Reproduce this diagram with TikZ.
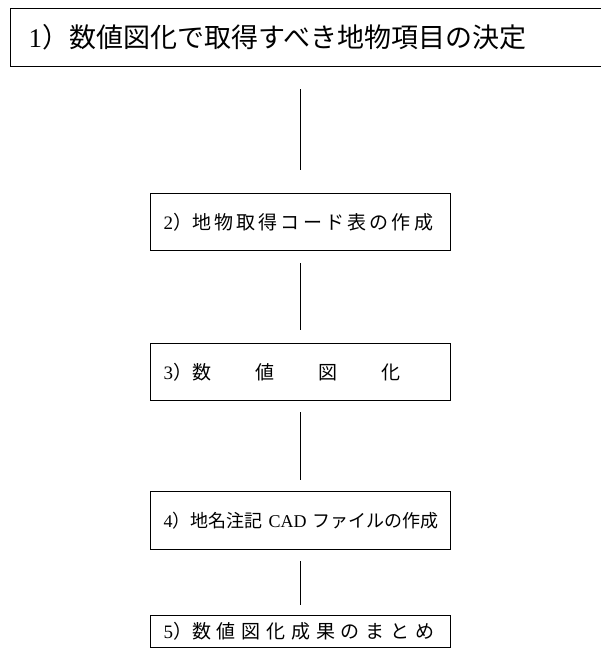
\documentclass[tikz,border=0pt]{standalone}
\usepackage{fontspec}
\setmainfont{Liberation Serif}
\newfontfamily\cjk{Noto Sans CJK JP}
\usetikzlibrary{calc}
\tikzset{
  box/.style={draw, line width=1.2pt, rectangle, anchor=north west, inner xsep=0pt, inner ysep=0pt, align=left},
  link/.style={line width=1.5pt}
}
\newcommand{\gp}[1]{\hspace{#1}}
\begin{document}
\begin{tikzpicture}[x=1pt,y=-1pt]
\useasboundingbox (0,0) rectangle (601,648);
\clip (0,0) rectangle (601,648);
\node[box, minimum width=600pt, minimum height=58pt, text width=600pt, font=\fontsize{27}{30}\selectfont] (b1) at (10,8)
  {\hspace{18pt}1\cjk）数値図化で取得すべき地物項目の決定};
\node[box, minimum width=300pt, minimum height=57pt, text width=300pt, font=\fontsize{19}{22}\selectfont] (b2) at (150,193)
  {\hspace{13pt}2\cjk）地\gp{3.2pt}物\gp{3.2pt}取\gp{3.2pt}得\gp{3.2pt}コ\gp{3.2pt}ー\gp{3.2pt}ド\gp{3.2pt}表\gp{3.2pt}の\gp{3.2pt}作\gp{3.2pt}成};
\node[box, minimum width=300pt, minimum height=57pt, text width=300pt, font=\fontsize{19}{22}\selectfont] (b3) at (150,343)
  {\hspace{13pt}3\cjk）数\gp{44pt}値\gp{44pt}図\gp{44pt}化};
\node[box, minimum width=300pt, minimum height=58pt, text width=300pt, font=\fontsize{18}{22}\selectfont] (b4) at (150,491)
  {\hspace{13pt}4{\cjk）地名注記} CAD {\cjk ファイルの作成}};
\node[box, minimum width=300pt, minimum height=32pt, text width=300pt, font=\fontsize{19}{22}\selectfont] (b5) at (150,615)
  {\hspace{13pt}5\cjk）数\gp{5.8pt}値\gp{5.8pt}図\gp{5.8pt}化\gp{5.8pt}成\gp{5.8pt}果\gp{5.8pt}の\gp{5.8pt}ま\gp{5.8pt}と\gp{5.8pt}め};
\draw[link] ($(b1.south -| b2.north)+(0,22)$) -- ($(b2.north)+(0,-23)$);
\draw[link] ($(b2.south)+(0,12)$) -- ($(b3.north)+(0,-13)$);
\draw[link] ($(b3.south)+(0,11)$) -- ($(b4.north)+(0,-11)$);
\draw[link] ($(b4.south)+(0,11)$) -- ($(b5.north)+(0,-10)$);
\end{tikzpicture}
\end{document}
